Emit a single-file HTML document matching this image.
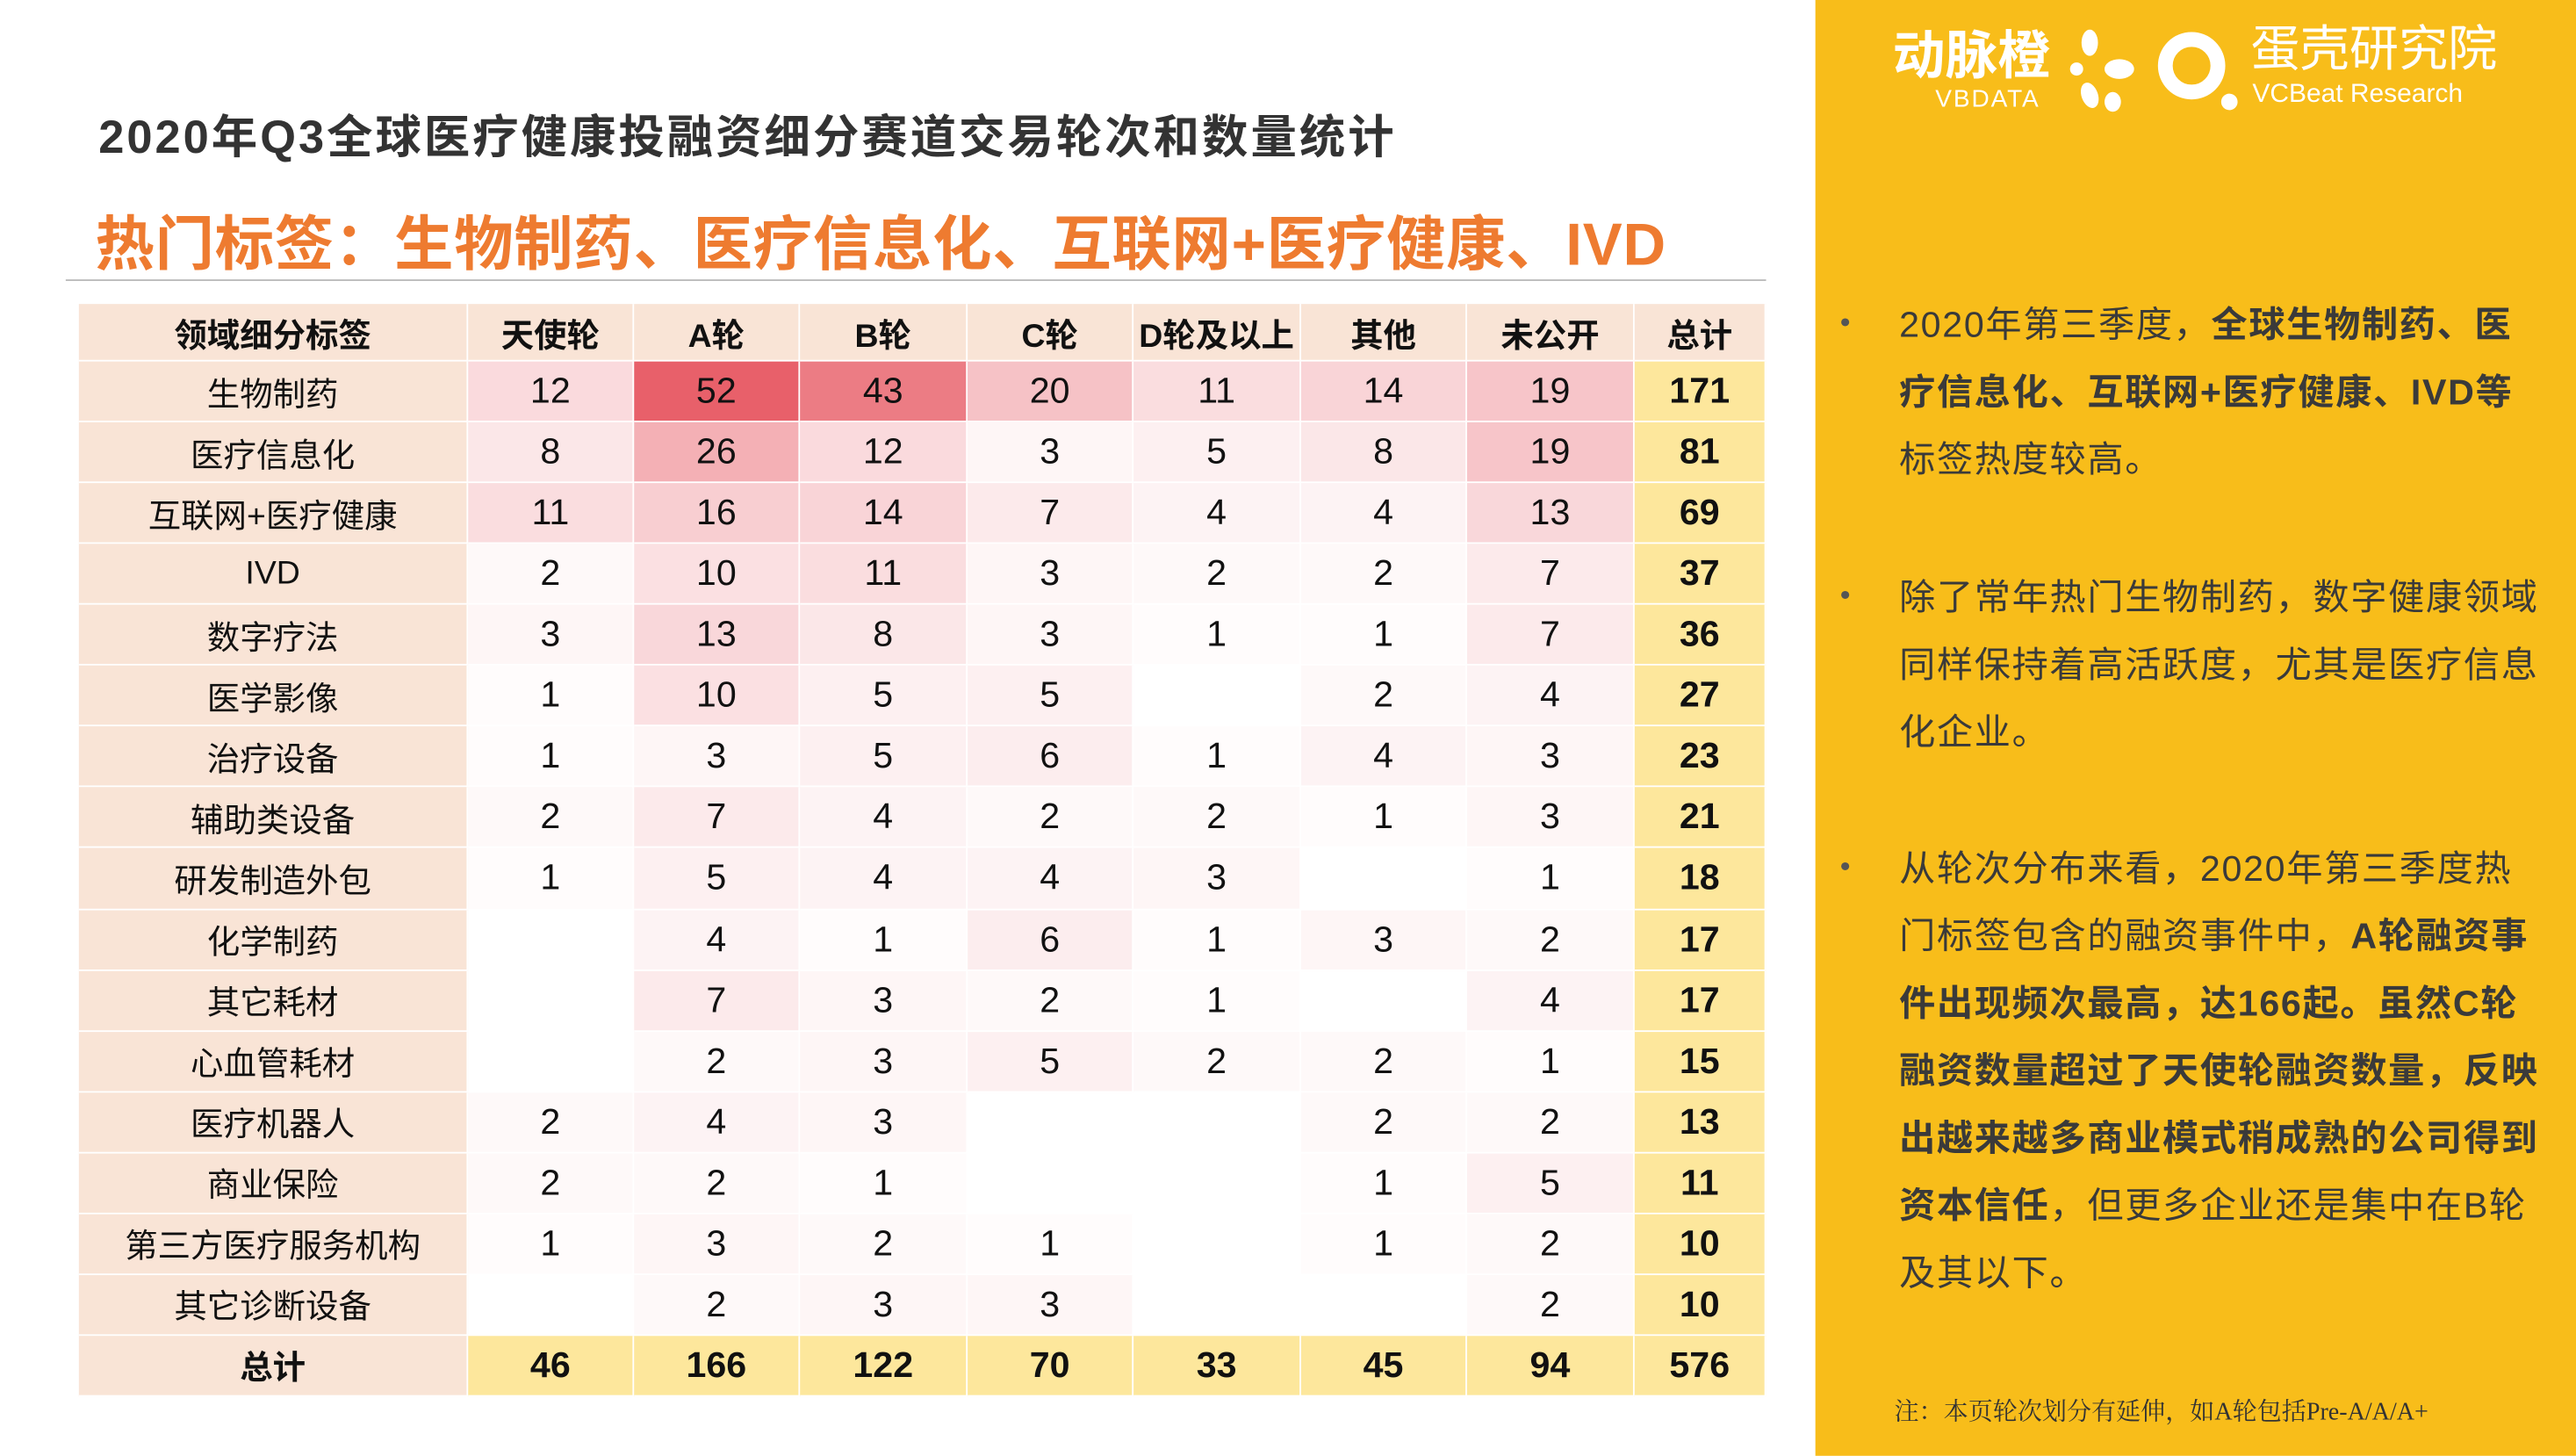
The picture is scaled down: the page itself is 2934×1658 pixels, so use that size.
<!DOCTYPE html>
<html><head><meta charset="utf-8">
<style>
html,body{margin:0;padding:0;background:#fff;}
#root{position:absolute;left:0;top:0;width:1568px;height:886px;transform:scale(1.8712);transform-origin:0 0;font-family:"Liberation Sans","Noto Sans CJK SC",sans-serif;overflow:hidden;background:#fff;}
.abs{position:absolute;}
#title{left:60px;top:62px;font-size:28px;font-weight:bold;color:#333;white-space:nowrap;letter-spacing:1.6px;}
#sub{left:58px;top:120px;font-size:36px;font-weight:bold;color:#ee7b30;white-space:nowrap;letter-spacing:0.4px;}
#rule{left:40px;top:170px;width:1035px;height:1px;background:#bbb;}
#panel{left:1105px;top:0;width:463px;height:886px;background:#f8bd1a;}
.cell{position:absolute;display:flex;align-items:center;justify-content:center;font-size:22px;color:#111;box-sizing:border-box;border-right:1px solid #fff;border-bottom:1px solid #fff;}
.bul{position:absolute;left:1156px;width:392px;font-size:22px;line-height:41px;color:#3a3a3a;letter-spacing:0.9px;}
.dot{position:absolute;left:1120px;font-size:18px;color:#555;}
</style></head><body>
<div id="root">
<div id="title" class="abs">2020年Q3全球医疗健康投融资细分赛道交易轮次和数量统计</div>
<div id="sub" class="abs">热门标签：生物制药、医疗信息化、互联网+医疗健康、IVD</div>
<div id="rule" class="abs"></div>
<div id="table"></div>
<div id="panel" class="abs"></div>
<div class="abs" style="left:1152px;top:17px;font-size:32px;line-height:34px;font-weight:bold;color:#fff;">动脉橙</div>
<div class="abs" style="left:1178px;top:53px;font-size:15px;line-height:16px;color:#fff;letter-spacing:1px;">VBDATA</div>
<svg class="abs" style="left:1258px;top:18px" width="50" height="52">
<g fill="#fff"><ellipse cx="14" cy="8" rx="5" ry="8"/><ellipse cx="32" cy="24" rx="9" ry="6"/><ellipse cx="14" cy="40" rx="5" ry="8" transform="rotate(-20 14 40)"/><ellipse cx="6" cy="24" rx="4" ry="4"/><ellipse cx="28" cy="44" rx="5" ry="6"/></g></svg>
<svg class="abs" style="left:1312px;top:18px" width="56" height="52">
<circle cx="22" cy="22" r="16" fill="none" stroke="#fff" stroke-width="9"/><circle cx="45" cy="44" r="5" fill="#fff"/></svg>
<div class="abs" style="left:1370px;top:15px;font-size:30px;line-height:32px;color:#fff;">蛋壳研究院</div>
<div class="abs" style="left:1371px;top:49px;font-size:16px;line-height:18px;color:#fff;">VCBeat Research</div>
<div class="dot" style="top:186px">•</div>
<div class="bul" style="top:177px">2020年第三季度，<b>全球生物制药、医疗信息化、互联网+医疗健康、IVD等</b>标签热度较高。</div>
<div class="dot" style="top:352px">•</div>
<div class="bul" style="top:343px">除了常年热门生物制药，数字健康领域同样保持着高活跃度，尤其是医疗信息化企业。</div>
<div class="dot" style="top:517px">•</div>
<div class="bul" style="top:508px">从轮次分布来看，2020年第三季度热门标签包含的融资事件中，<b>A轮融资事件出现频次最高，达166起。虽然C轮融资数量超过了天使轮融资数量，反映出越来越多商业模式稍成熟的公司得到资本信任</b>，但更多企业还是集中在B轮及其以下。</div>
<div class="abs" style="left:1153px;top:848px;font-size:15px;color:#333;font-family:'Liberation Serif','Noto Serif CJK SC',serif;white-space:nowrap;">注：本页轮次划分有延伸，如A轮包括Pre-A/A/A+</div>
</div>
<script>
const headers=["领域细分标签","天使轮","A轮","B轮","C轮","D轮及以上","其他","未公开","总计"];
const categories=["生物制药","医疗信息化","互联网+医疗健康","IVD","数字疗法","医学影像","治疗设备","辅助类设备","研发制造外包","化学制药","其它耗材","心血管耗材","医疗机器人","商业保险","第三方医疗服务机构","其它诊断设备"];
const values=[
[12,52,43,20,11,14,19],
[8,26,12,3,5,8,19],
[11,16,14,7,4,4,13],
[2,10,11,3,2,2,7],
[3,13,8,3,1,1,7],
[1,10,5,5,null,2,4],
[1,3,5,6,1,4,3],
[2,7,4,2,2,1,3],
[1,5,4,4,3,null,1],
[null,4,1,6,1,3,2],
[null,7,3,2,1,null,4],
[null,2,3,5,2,2,1],
[2,4,3,null,null,2,2],
[2,2,1,null,null,1,5],
[1,3,2,1,null,1,2],
[null,2,3,3,null,null,2]];
const rowTotals=[171,81,69,37,36,27,23,21,18,17,17,15,13,11,10,10];
const colTotals=[46,166,122,70,33,45,94];
const grandTotal=576;
const colX=[48,285,386,487,589,690,792,893,995,1075];
const y0=185,hH=35,rH=37.06;
const root=document.getElementById('root');
const maxV=52;
function heat(v){if(v==null)return '#fff';const t=v/maxV;const c=[232,96,106];return 'rgb('+c.map(k=>Math.round(255-(255-k)*t)).join(',')+')';}
function cell(x1,x2,y,h,txt,bg,bold,name){
 const d=document.createElement('div');d.className='cell';
 d.style.left=x1+'px';d.style.top=y+'px';d.style.width=(x2-x1)+'px';d.style.height=h+'px';
 d.style.background=bg;if(bold){d.style.fontWeight='bold';}
 d.textContent=txt==null?'':txt;
 
 
 root.appendChild(d);return d;}
const peach='#f9e4d6',yellow='#fde79c';
headers.forEach((h,i)=>{const d=cell(colX[i],colX[i+1],y0,hH,h,peach,true,'header-cell');d.style.fontSize='20px';});
categories.forEach((c,r)=>{
 const y=y0+hH+r*rH;
 cell(colX[0],colX[1],y,rH,c,peach,false,'row-label').style.fontSize='20px';
 values[r].forEach((v,j)=>cell(colX[j+1],colX[j+2],y,rH,v,heat(v),false,'heat-cell'));
 cell(colX[8],colX[9],y,rH,rowTotals[r],yellow,true,'row-total');
});
const yt=y0+hH+categories.length*rH;
cell(colX[0],colX[1],yt,rH,'总计',peach,true,'total-label').style.fontSize='20px';
colTotals.forEach((v,j)=>cell(colX[j+1],colX[j+2],yt,rH,v,yellow,true,'column-total'));
cell(colX[8],colX[9],yt,rH,grandTotal,yellow,true,'grand-total');
</script>
</body></html>
